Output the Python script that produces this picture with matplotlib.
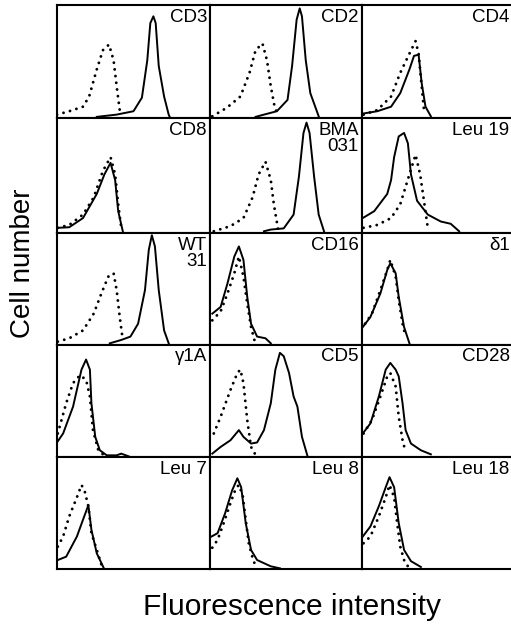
import matplotlib
matplotlib.use("Agg")
import matplotlib.pyplot as plt

# ---- data: (channel, relative count) pairs ----
labels = ["CD3", "CD2", "CD4",
          "CD8", "BMA\n031", "Leu 19",
          "WT\n31", "CD16", "δ1",
          "γ1A", "CD5", "CD28",
          "Leu 7", "Leu 8", "Leu 18"]

cd3_ctrl = [(0,3),(8,6),(17,10),(21,19),(26,43),(30,60),(34,65),(37,51),(39,28),(41,7),(42,2)]
cd3_stain = [(26,1),(39,3),(50,6),(55.5,18),(59,51),(61,84),(63,90),(64.5,84),(66.5,46),(70,19),(73,3),(74,0)]
cd2_ctrl = [(1.5,1.5),(11,9),(20,19),(26,40),(30,60),(34.5,66),(37.5,51),(40,28),(42.5,10),(45,1.5)]
cd2_stain = [(30,1),(35.5,3),(44,6),(51,16),(54,46),(57,87),(59,97),(60.5,90),(63,51),(66,22),(71.5,1.5)]
cd4_ctrl = [(1,3),(10,7),(19,19),(25,40),(31,57),(35,68),(37,57),(39,28),(40.5,7)]
cd4_stain = [(1,4),(10,6),(19,10),(25,22),(31,43),(34,55),(37,56),(39,31),(41.5,10),(45,1.5)]
cd8_ctrl = [(0.5,4.5),(8,7),(17,16),(24,31),(30,54),(35,66),(38,51),(40,25),(42,4.5)]
cd8_stain = [(0.5,4.5),(8,5),(17,13),(26,34),(31,51),(35,61),(38,46),(40,19),(43,1.5)]
bma_ctrl = [(2.5,1.5),(13.5,6),(22,13),(28,31),(32,51),(36.5,62),(40,46),(42,25),(45,1.5)]
bma_stain = [(35.5,1.5),(40,3),(48.5,4),(55,16),(58.5,49),(61.5,87),(63.5,96),(65.5,87),(68.5,49),(71.5,16),(75,1.5)]
leu19_ctrl = [(1,4.5),(10,7),(19,13),(25,25),(31,51),(35,68),(38,51),(40.5,28),(43,4.5)]
leu19_stain = [(0.5,13),(8,19),(16.5,34),(19,46),(21,66),(24,84),(27.5,87),(30,78),(32,51),(36,28),(43,16),(51.5,10),(58,8),(63.5,1.5)]
wt31_ctrl = [(0.5,3),(8,6),(17,13),(24,28),(29,46),(33.5,61),(37,64),(39,49),(41,25),(43,4.5)]
wt31_stain = [(34.5,1.5),(42,4.5),(48,7.5),(53,19),(57.5,49),(60,85),(62,98),(64,88),(66.5,49),(70,13),(73,1.5)]
cd16_ctrl = [(1.5,22),(7,30),(11.5,46),(16,64),(19,79),(22,61),(24.5,37),(27,16),(29.5,3)]
cd16_stain = [(1.5,28),(7,34),(11.5,55),(16,79),(19,88),(22,76),(24.5,43),(27,19),(31,7.5),(36.5,6),(40,1.5)]
d1_ctrl = [(2,19),(6.5,28),(12,49),(16.5,67),(18.5,76),(22,61),(24,40),(26.5,19),(28.5,7.5)]
d1_stain = [(0.5,16),(5.5,25),(12,46),(16.5,67),(18.5,73),(22,64),(24,43),(27.5,16),(31,1.5)]
g1a_ctrl = [(0.5,21),(6,48),(10.5,66),(15,73),(19,69),(21.5,54),(23.5,24),(27,6),(30,2.4)]
g1a_stain = [(0,13),(4,21),(10.5,45),(16,78),(19,87),(21.5,78),(22.5,48),(25,18),(28,6),(32.5,1.5),(39,1.5),(42,3),(47,0.5)]
cd5_ctrl = [(2.5,21),(7,36),(13.5,60),(18,75),(20,78),(22,66),(24.5,33),(27,9),(29.5,3)]
cd5_stain = [(1.5,3),(7,9),(13.5,15),(19,24),(22,18),(27,12),(31,13),(35.5,24),(40,48),(43,78),(46,93),(48.5,90),(52,75),(55,54),(57.5,45),(60.5,18),(64,1.5)]
cd28_ctrl = [(1,21),(6.5,33),(12,54),(16.5,72),(18.5,75),(22,63),(24,36),(26.5,15),(28.5,4.5)]
cd28_stain = [(0.5,21),(5.5,30),(11,54),(15.5,78),(18.5,84),(22,78),(24,72),(26.5,48),(28.5,24),(32,12),(38.5,6),(45,2.4)]
leu7_ctrl = [(0.5,20),(4,29),(8,47),(13,64),(16,75),(18,70),(20.5,56),(22.5,32),(26,17),(29,4)]
leu7_stain = [(0.5,8),(6,11),(13,29),(17,44),(20.5,57),(22.5,35),(26,14),(30.5,1)]
leu8_ctrl = [(1.5,19),(5,26),(9,41),(13.5,59),(17,72),(19,75),(21.5,66),(23.5,44),(25.5,23),(28,10),(30,2.4)]
leu8_stain = [(1,29),(5,32),(10,50),(14.5,70),(18,81),(20.5,73),(23.5,41),(27,17),(31,8),(40,2.4),(46,0.6)]
leu18_ctrl = [(1,23),(5.5,29),(11,47),(15.5,64),(18,75),(21,64),(23,41),(25,20),(27.5,8),(30,2.4)]
leu18_stain = [(0.5,29),(5.5,38),(11,56),(15.5,73),(18,82),(21,73),(24,41),(27.5,17),(32,7),(38.5,1.8)]

controls = [cd3_ctrl, cd2_ctrl, cd4_ctrl, cd8_ctrl, bma_ctrl, leu19_ctrl,
            wt31_ctrl, cd16_ctrl, d1_ctrl, g1a_ctrl, cd5_ctrl, cd28_ctrl,
            leu7_ctrl, leu8_ctrl, leu18_ctrl]
stains = [cd3_stain, cd2_stain, cd4_stain, cd8_stain, bma_stain, leu19_stain,
          wt31_stain, cd16_stain, d1_stain, g1a_stain, cd5_stain, cd28_stain,
          leu7_stain, leu8_stain, leu18_stain]

# ---- layout ----
W, H = 511, 625
fig = plt.figure(figsize=(W / 100, H / 100), dpi=100)
plt.rcParams['font.family'] = ['Liberation Sans', 'DejaVu Sans']

col_edges = [57, 210, 362, 515]
row_edges = [5, 118, 233, 345, 457, 569]

for i in range(15):
    r, c = divmod(i, 3)
    x0, x1 = col_edges[c], col_edges[c + 1]
    y0, y1 = row_edges[r], row_edges[r + 1]
    ax = fig.add_axes([x0 / W, 1 - y1 / H, (x1 - x0) / W, (y1 - y0) / H])
    ax.set_xlim(0, 100)
    ax.set_ylim(0, 100)
    ax.set_xticks([])
    ax.set_yticks([])
    for s in ax.spines.values():
        s.set_linewidth(1.5)
        s.set_color('black')
    cx, cy = zip(*controls[i])
    sx, sy = zip(*stains[i])
    ax.plot(cx, cy, color='black', linewidth=2.1,
            linestyle=(0, (0.01, 2.3)), dash_capstyle='round')
    ax.plot(sx, sy, color='black', linewidth=1.4, solid_joinstyle='round')
    right_px = min(x1 - 3, 509.5)
    ax.text((right_px - x0) / (x1 - x0), 1 - 3.5 / (y1 - y0), labels[i],
            transform=ax.transAxes, ha='right', va='top',
            fontsize=13.5, linespacing=0.95)

fig.text(23 / W, 1 - 263 / H, "Cell number", rotation=90, ha='center', va='center',
         fontsize=20)
fig.text(292 / W, 1 - 615 / H, "Fluorescence intensity", ha='center', va='baseline',
         fontsize=21.5)

fig.savefig("out.png", dpi=100)
